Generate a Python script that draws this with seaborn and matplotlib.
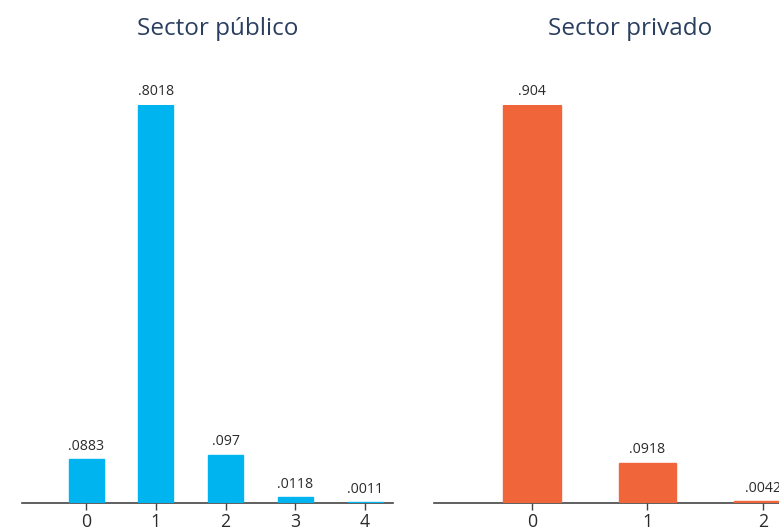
import seaborn as sns
import matplotlib.pyplot as plt

publico_cats = ["0", "1", "2", "3", "4"]
publico_vals = [0.0883, 0.8018, 0.097, 0.0118, 0.0011]
publico_labels = [".0883", ".8018", ".097", ".0118", ".0011"]

privado_cats = ["0", "1", "2"]
privado_vals = [0.904, 0.0918, 0.0042]
privado_labels = [".904", ".0918", ".0042"]

sns.set_style("white")
plt.rcParams["font.family"] = ["Open Sans", "DejaVu Sans"]

W, H = 779, 530
fig = plt.figure(figsize=(W / 100, H / 100), dpi=100)


def px_axes(x0, x1, y_top, y_base):
    return fig.add_axes([x0 / W, (H - y_base) / H, (x1 - x0) / W, (y_base - y_top) / H])


def draw_panel(ax, cats, vals, labels, color, xlim):
    sns.barplot(x=cats, y=vals, color=color, width=0.5, saturation=1,
                edgecolor=color, linewidth=1, ax=ax)
    ax.set_xlim(*xlim)
    ax.set_ylim(0, max(vals))
    for i, (v, lab) in enumerate(zip(vals, labels)):
        ax.annotate(lab, (i, v), xytext=(0, 4), textcoords="offset points",
                    ha="center", va="bottom", fontsize=10.2, color="#2a2a2a",
                    annotation_clip=False)
    sns.despine(ax=ax, left=True)
    ax.spines["bottom"].set_color("#444444")
    ax.spines["bottom"].set_linewidth(1.2)
    ax.spines["bottom"].set_zorder(0)
    ax.set_yticks([])
    ax.tick_params(axis="x", length=5, width=1, color="#444444", labelsize=12.8,
                   labelcolor="#2a2a2a", pad=2, bottom=True)
    ax.set_xlabel("")
    ax.set_ylabel("")


ax1 = px_axes(22, 393, 105, 503)
draw_panel(ax1, publico_cats, publico_vals, publico_labels, "#00b4f0", (-0.92, 4.4))

ax2 = px_axes(434, 832, 105, 503)
draw_panel(ax2, privado_cats, privado_vals, privado_labels, "#f0663a", (-0.85, 2.6))

fig.text(218 / W, 1 - 29 / H, "Sector público", ha="center", va="center",
         fontsize=17.5, color="#2a3f5f")
fig.text(630 / W, 1 - 29 / H, "Sector privado", ha="center", va="center",
         fontsize=17.5, color="#2a3f5f")

fig.savefig("out.png", dpi=100)
